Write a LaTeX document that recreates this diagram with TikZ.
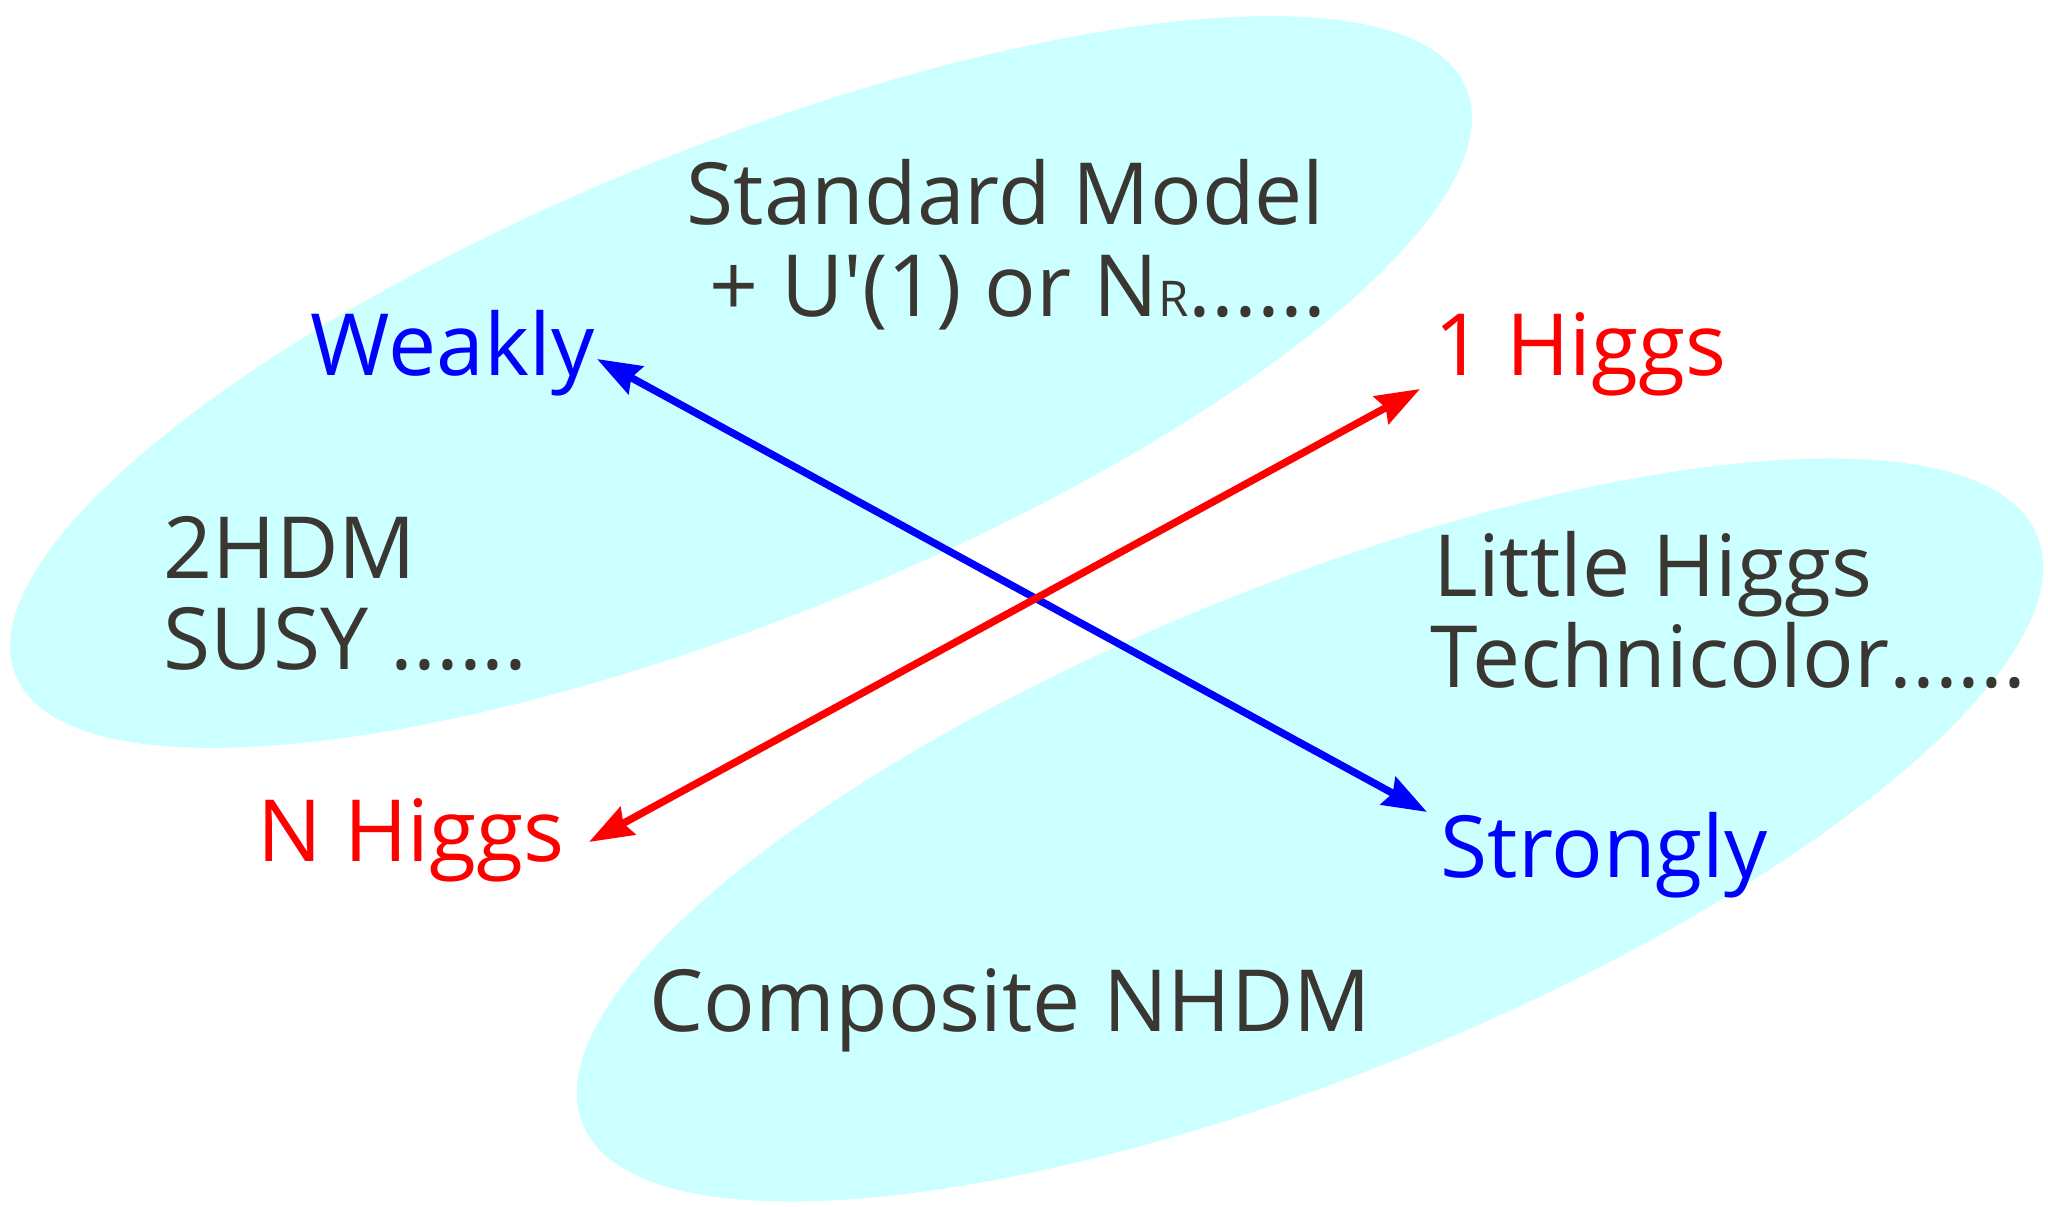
\documentclass[tikz,border=0pt]{standalone}
\usepackage{fontspec}
\setmainfont{Open Sans}
\usepackage{xcolor}
\usepackage{tikz}
\usetikzlibrary{arrows.meta}

\definecolor{bubble}{HTML}{CCFFFF}
\definecolor{ink}{HTML}{3A3632}

\begin{document}
\begin{tikzpicture}[x=0.01cm,y=-0.01cm,
  lbl/.style={inner sep=0pt,anchor=base west,text=ink,font=\fontsize{24.4}{29}\selectfont},
  link/.style={line width=2.1pt,{Stealth[length=0.44cm,width=0.31cm,inset=0.05cm]}-{Stealth[length=0.44cm,width=0.31cm,inset=0.05cm]}}]
\useasboundingbox (0,0) rectangle (2048,1207);
% the two regions
\fill[bubble,rotate around={22:(741,382)}] (741,382) ellipse [x radius=7.82cm,y radius=2.36cm];
\fill[bubble,rotate around={22:(1310,830)}] (1310,830) ellipse [x radius=7.84cm,y radius=2.45cm];
% labels
\node[lbl] (sm1) at (686,225) {Standard Model};
\node[lbl] (sm2) at (709,317) {+ U\textquotesingle(1) or N{\fontsize{14}{16}\selectfont R}......};
\node[lbl,text=blue] (weak) at (310,376) {Weakly};
\node[lbl,text=red] (one) at (1434,376) {1 Higgs};
\node[lbl] (thdm) at (163,579) {2HDM};
\node[lbl] (susy) at (163,670) {SUSY ......};
\node[lbl] (lh) at (1433,597) {Little Higgs};
\node[lbl] (tc) at (1430,688) {Technicolor......};
\node[lbl,text=red] (nh) at (257,862) {N Higgs};
\node[lbl,text=blue] (strong) at (1440,878) {Strongly};
\node[lbl] (comp) at (649,1032) {Composite NHDM};
% arrows
\coordinate (weak-end) at (597,359);
\coordinate (strong-end) at (1427,812);
\coordinate (one-end) at (1420,389);
\coordinate (nh-end) at (589,842);
\draw[link,blue] (weak-end) -- (strong-end);
\draw[link,red] (nh-end) -- (one-end);
\end{tikzpicture}
\end{document}
